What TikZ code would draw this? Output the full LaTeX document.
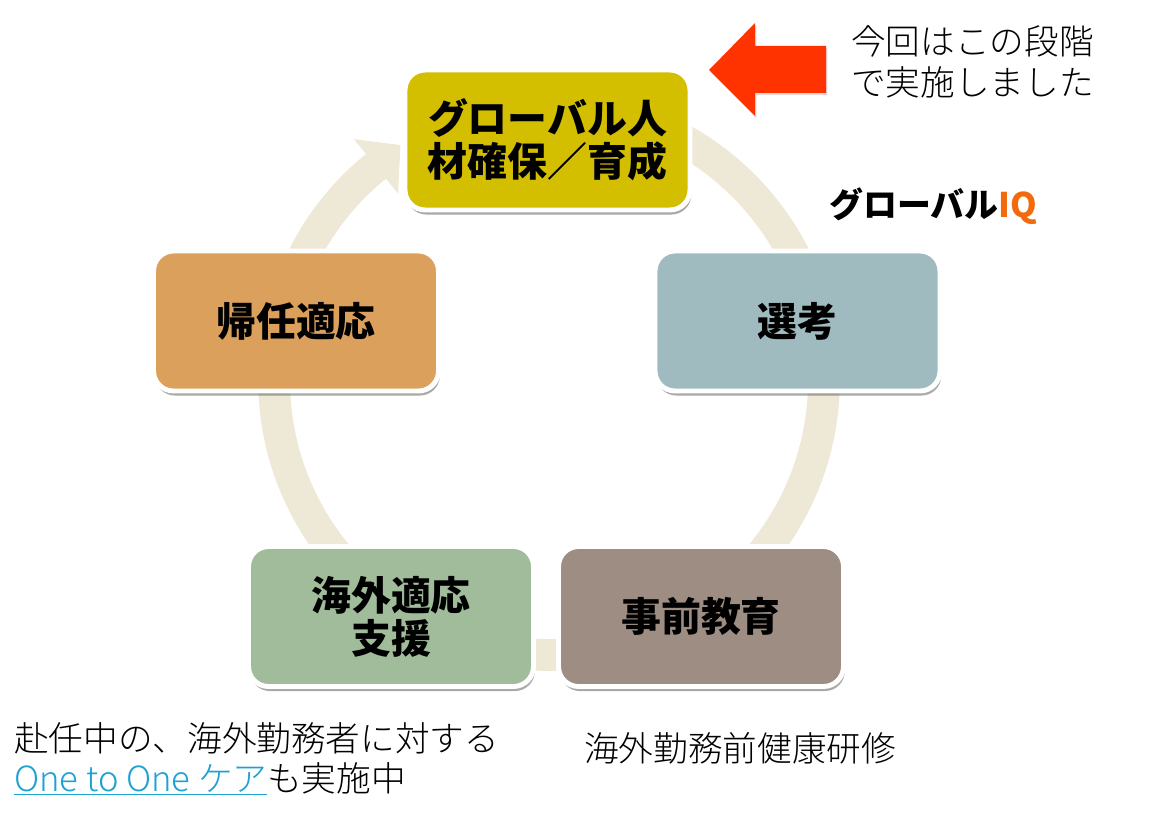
\documentclass[tikz,border=0pt]{standalone}
\usepackage{fontspec}
\setmainfont{Noto Sans CJK JP}
\newfontfamily\heavyjp{Noto Sans CJK JP Black}
\newfontfamily\lightjp{Noto Sans CJK JP Light}
\usetikzlibrary{shadows}
\definecolor{topc}{RGB}{212,190,0}
\definecolor{rightc}{RGB}{160,187,191}
\definecolor{leftc}{RGB}{219,161,92}
\definecolor{blc}{RGB}{160,188,154}
\definecolor{brc}{RGB}{158,141,130}
\definecolor{ringc}{RGB}{238,232,214}
\definecolor{redc}{RGB}{255,51,0}
\definecolor{iqc}{RGB}{242,106,14}
\definecolor{linkc}{RGB}{27,161,210}
\tikzset{
  stagebox/.style={draw=white, line width=2.8pt, rounded corners=0.4cm,
    minimum width=5.7cm, minimum height=2.8cm, inner sep=0pt, align=center,
    font=\heavyjp\fontsize{22.7pt}{24.4pt}\selectfont,
    drop shadow={shadow xshift=0.8pt, shadow yshift=-2.6pt, opacity=0.45, fill=black!75}},
  annot/.style={anchor=base west, inner sep=0pt, font=\lightjp\fontsize{19.7pt}{22.7pt}\selectfont},
}
\begin{document}
\begin{tikzpicture}[x=0.02cm,y=-0.02cm]
\useasboundingbox (0,0) rectangle (1149,821);
% ring
\coordinate (c) at (549,380);
\draw[ringc, line width=18.1pt] ([shift={(95:5.5cm)}]c) arc[start angle=95, end angle=-231, radius=5.5cm];
\fill[ringc] ([shift={(129:4.8cm)}]c) -- ([shift={(122.3:5.56cm)}]c) -- ([shift={(129:6.2cm)}]c) -- cycle;
% stage boxes
\node[stagebox, fill=topc] (top) at (547.5,140) {グローバル人\\材確保／育成};
\node[stagebox, fill=rightc] (sel) at (797.5,321) {選考};
\node[stagebox, fill=leftc] (ret) at (296,321) {帰任適応};
\node[stagebox, fill=blc] (sup) at (391,616.5) {海外適応\\支援};
\node[stagebox, fill=brc] (edu) at (701,616.5) {事前教育};
% red arrow
\fill[redc, drop shadow={shadow xshift=0.8pt, shadow yshift=-1.2pt, opacity=0.3}] (709,70) -- (755,23) -- (755,46) -- (826,46) -- (826,93) -- (755,93) -- (755,116) -- cycle;
% annotations
\node[annot] (a1) at (851,55) {今回はこの段階};
\node[annot] (a2) at (851,95) {で実施しました};
\node[anchor=base west, inner sep=0pt, font=\heavyjp\fontsize{19.3pt}{22pt}\selectfont] (iq) at (829,217) {グローバル\textcolor{iqc}{IQ}};
\node[annot] (n1) at (14,751) {赴任中の、海外勤務者に対する};
\node[annot] (n2) at (14,791) {\textcolor{linkc}{\underline{One to One ケア}}も実施中};
\node[annot] (n3) at (584,761) {海外勤務前健康研修};
\end{tikzpicture}
\end{document}
